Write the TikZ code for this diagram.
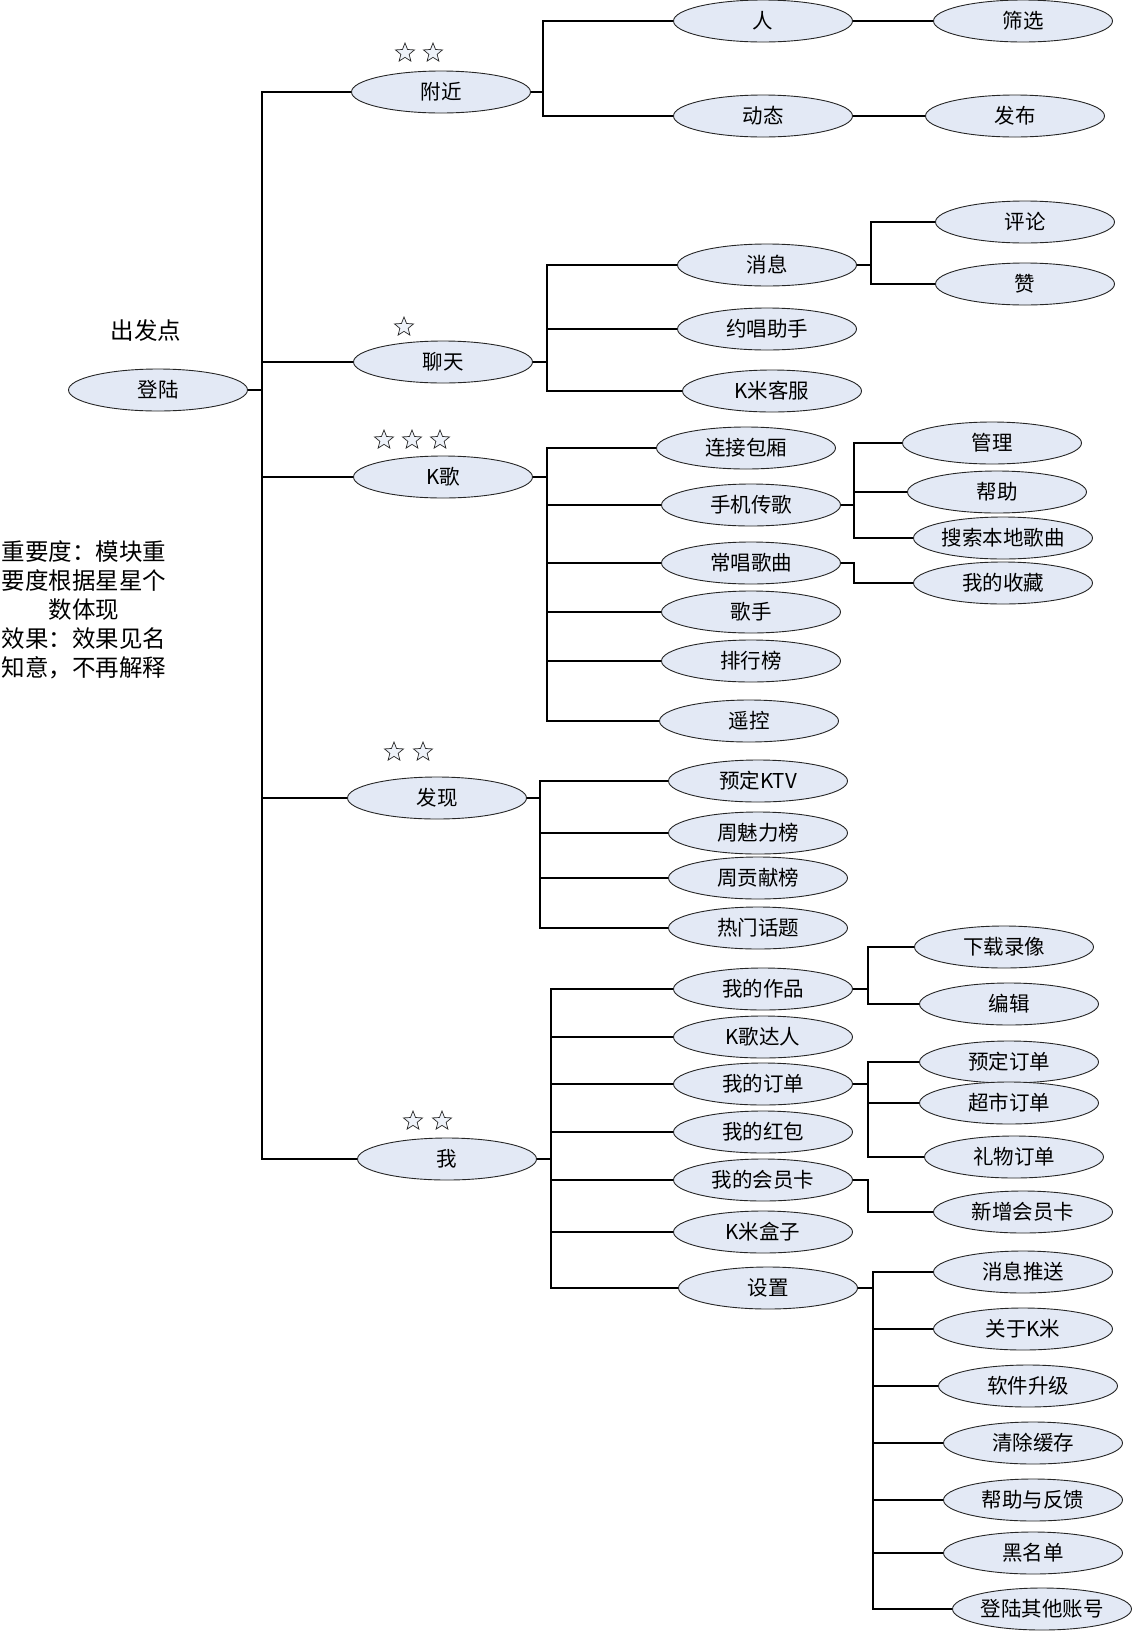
\documentclass[tikz,border=0pt]{standalone}
\usepackage{fontspec}
\setmainfont{Noto Sans CJK SC}
\usetikzlibrary{shapes.geometric}
\definecolor{ovalfill}{RGB}{227,233,245}
\begin{document}
\begin{tikzpicture}[x=1pt,y=-1pt,
  oval/.style={ellipse, draw=black!85, line width=0.9pt, fill=ovalfill,
    minimum width=179pt, minimum height=42pt, inner sep=0pt,
    font=\fontsize{20.5}{20.5}\selectfont},
  link/.style={line width=1.1pt, black},
  staricon/.style={star, star points=5, star point ratio=2.3, draw=black!85,
    line width=0.7pt, fill=ovalfill!60, minimum size=20pt, inner sep=0pt},
  note/.style={font=\fontsize{23.5}{29}\selectfont, inner sep=0pt, align=center}]
\useasboundingbox (0,0) rectangle (1132,1631);
\fill[white] (0,0) rectangle (1132,1631);

% root and notes
\node[oval] (login) at (158,390) {登陆};
\node[note] (startlbl) at (146,331) {出发点};
\node[note] (legend) at (84,610) {重要度：模块重\\要度根据星星个\\数体现\\效果：效果见名\\知意，不再解释};

% level 1
\node[oval] (near) at (441,92) {附近};
\node[oval] (chat) at (443,362) {聊天};
\node[oval] (ksong) at (443,477) {K歌};
\node[oval] (find) at (437,798) {发现};
\node[oval] (me) at (447,1159) {我};

% stars
\node[staricon] (s1a) at (405,53) {};
\node[staricon] (s1b) at (433,53) {};
\node[staricon] (s2a) at (404,327) {};
\node[staricon] (s3a) at (384,440) {};
\node[staricon] (s3b) at (412,440) {};
\node[staricon] (s3c) at (440,440) {};
\node[staricon] (s4a) at (394,752) {};
\node[staricon] (s4b) at (423,752) {};
\node[staricon] (s5a) at (413,1121) {};
\node[staricon] (s5b) at (442,1121) {};

% 附近
\node[oval] (person) at (763,21) {人};
\node[oval] (dyn) at (763,116) {动态};
\node[oval] (filter) at (1023,21) {筛选};
\node[oval] (publish) at (1015,116) {发布};

% 聊天
\node[oval] (msg) at (767,265) {消息};
\node[oval] (assist) at (767,329) {约唱助手};
\node[oval] (service) at (772,391) {K米客服};
\node[oval] (comment) at (1025,222) {评论};
\node[oval] (like) at (1025,284) {赞};

% K歌
\node[oval] (room) at (746,448) {连接包厢};
\node[oval] (upload) at (751,505) {手机传歌};
\node[oval] (often) at (751,563) {常唱歌曲};
\node[oval] (singer) at (751,612) {歌手};
\node[oval] (rank) at (751,661) {排行榜};
\node[oval] (remote) at (749,721) {遥控};
\node[oval] (manage) at (992,443) {管理};
\node[oval] (help) at (997,492) {帮助};
\node[oval] (search) at (1003,538) {搜索本地歌曲};
\node[oval] (fav) at (1003,583) {我的收藏};

% 发现
\node[oval] (ktv) at (758,781) {预定KTV};
\node[oval] (charm) at (758,833) {周魅力榜};
\node[oval] (contrib) at (758,878) {周贡献榜};
\node[oval] (topic) at (758,928) {热门话题};

% 我
\node[oval] (works) at (763,989) {我的作品};
\node[oval] (master) at (763,1037) {K歌达人};
\node[oval] (orders) at (763,1084) {我的订单};
\node[oval] (redpack) at (763,1132) {我的红包};
\node[oval] (card) at (763,1180) {我的会员卡};
\node[oval] (box) at (763,1232) {K米盒子};
\node[oval] (settings) at (768,1288) {设置};

\node[oval] (download) at (1004,947) {下载录像};
\node[oval] (edit) at (1009,1004) {编辑};
\node[oval] (book) at (1009,1062) {预定订单};
\node[oval] (market) at (1009,1103) {超市订单};
\node[oval] (gift) at (1014,1157) {礼物订单};
\node[oval] (newcard) at (1023,1212) {新增会员卡};

\node[oval] (push) at (1023,1272) {消息推送};
\node[oval] (about) at (1023,1329) {关于K米};
\node[oval] (upgrade) at (1028,1386) {软件升级};
\node[oval] (cache) at (1033,1443) {清除缓存};
\node[oval] (feedback) at (1033,1500) {帮助与反馈};
\node[oval] (black) at (1033,1553) {黑名单};
\node[oval] (other) at (1042,1609) {登陆其他账号};

% connectors
\foreach \c in {near,chat,ksong,find,me}
  \draw[link] (login.east) -- ++(14,0) |- (\c.west);
\foreach \c in {person,dyn}
  \draw[link] (near.east) -- ++(12,0) |- (\c.west);
\draw[link] (person.east) -- (filter.west);
\draw[link] (dyn.east) -- (publish.west);
\foreach \c in {msg,assist,service}
  \draw[link] (chat.east) -- ++(14,0) |- (\c.west);
\foreach \c in {comment,like}
  \draw[link] (msg.east) -- ++(14,0) |- (\c.west);
\foreach \c in {room,upload,often,singer,rank,remote}
  \draw[link] (ksong.east) -- ++(14,0) |- (\c.west);
\foreach \c in {manage,help,search}
  \draw[link] (upload.east) -- ++(13,0) |- (\c.west);
\draw[link] (often.east) -- ++(13,0) |- (fav.west);
\foreach \c in {ktv,charm,contrib,topic}
  \draw[link] (find.east) -- ++(13,0) |- (\c.west);
\foreach \c in {works,master,orders,redpack,card,box,settings}
  \draw[link] (me.east) -- ++(14,0) |- (\c.west);
\foreach \c in {download,edit}
  \draw[link] (works.east) -- ++(15,0) |- (\c.west);
\foreach \c in {book,market,gift}
  \draw[link] (orders.east) -- ++(15,0) |- (\c.west);
\draw[link] (card.east) -- ++(15,0) |- (newcard.west);
\foreach \c in {push,about,upgrade,cache,feedback,black,other}
  \draw[link] (settings.east) -- ++(15,0) |- (\c.west);
\end{tikzpicture}
\end{document}
